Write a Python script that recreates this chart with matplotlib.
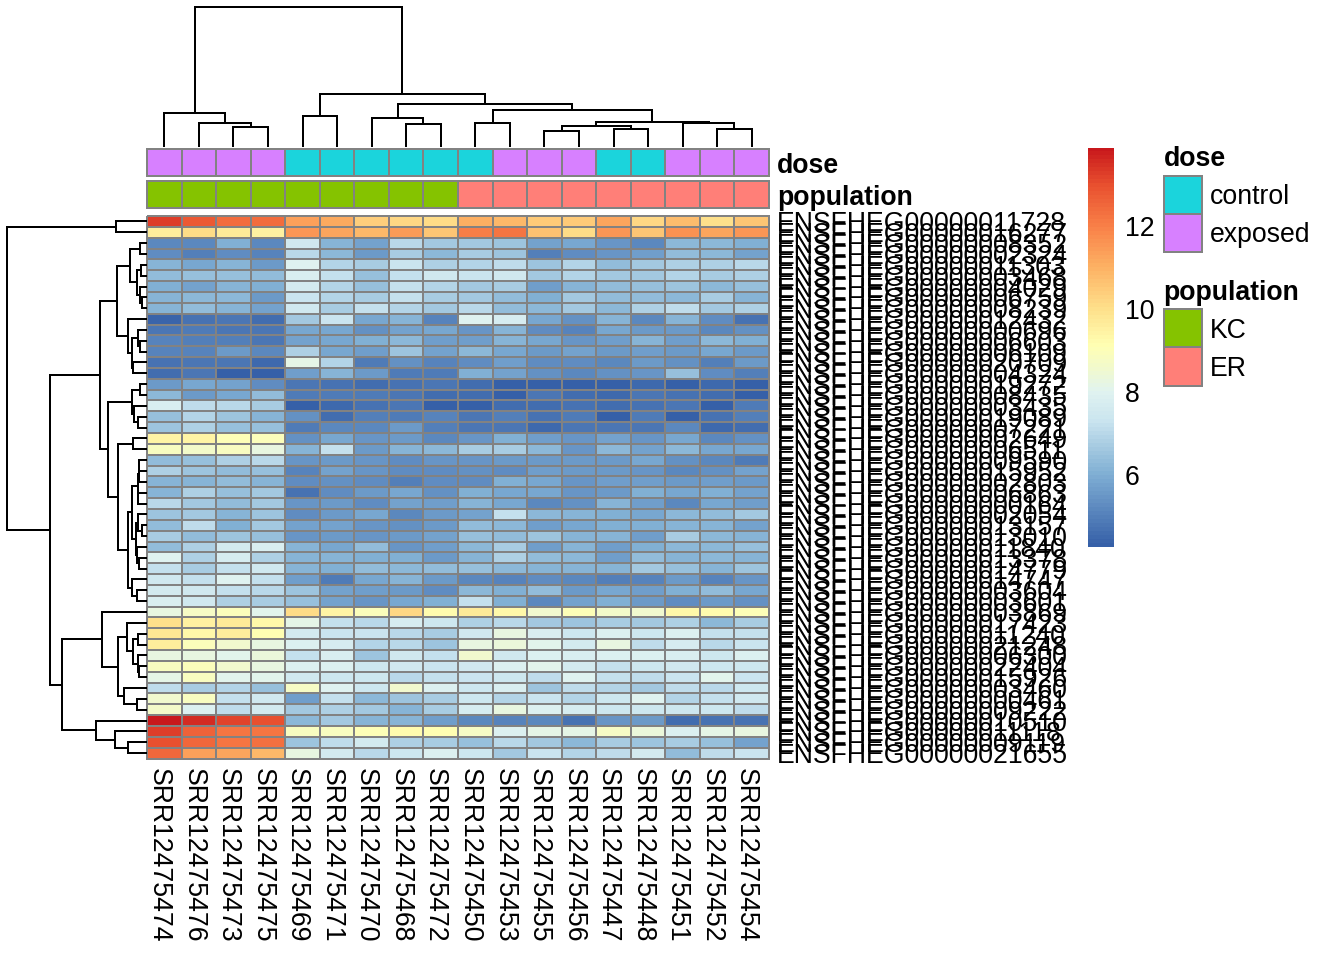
import numpy as np
import matplotlib
matplotlib.use('Agg')
import matplotlib.pyplot as plt
from matplotlib.colors import LinearSegmentedColormap, Normalize

plt.rcParams['font.family'] = ['Liberation Sans', 'DejaVu Sans']

# Columnas y filas del heatmap
muestras = ['SRR12475474', 'SRR12475476', 'SRR12475473', 'SRR12475475', 'SRR12475469', 'SRR12475471',
            'SRR12475470', 'SRR12475468', 'SRR12475472', 'SRR12475450', 'SRR12475453', 'SRR12475455',
            'SRR12475456', 'SRR12475447', 'SRR12475448', 'SRR12475451', 'SRR12475452', 'SRR12475454']
dose = ['exposed', 'exposed', 'exposed', 'exposed', 'control', 'control', 'control', 'control', 'control',
        'control', 'exposed', 'exposed', 'exposed', 'control', 'control', 'exposed', 'exposed', 'exposed']
population = ['KC'] * 9 + ['ER'] * 9
sufijos_genes = ['11728', '16277', '08352', '02324', '11303', '03468', '04029', '06759', '08239', '12432',
                 '00696', '06603', '06109', '20709', '04324', '19272', '08435', '03435', '19089', '07221',
                 '02649', '06511', '09590', '15952', '02803', '06863', '00164', '02054', '13157', '13010',
                 '11840', '13378', '14779', '14747', '03604', '03601', '03869', '17423', '11240', '21248',
                 '06300', '22404', '15926', '03460', '00461', '09222', '10510', '11118', '09119', '21655']
genes = ['ENSFHEG000000' + s for s in sufijos_genes]

valores = np.array([
    [13.3, 12.8, 12.4, 12.4, 11.3, 11.1, 10.4, 10.2, 10.1, 11.0, 10.9, 10.5, 10.5, 11.2, 10.2, 10.8, 10.0, 10.6],
    [9.6, 10.1, 9.7, 9.5, 11.5, 11.2, 10.9, 11.4, 10.6, 12.0, 12.2, 10.7, 10.1, 11.5, 10.6, 11.6, 11.2, 11.5],
    [5.2, 5.2, 6.0, 5.2, 7.5, 6.1, 5.8, 7.0, 6.6, 6.6, 6.5, 5.8, 5.9, 5.5, 5.2, 6.2, 6.2, 6.0],
    [5.3, 5.0, 5.3, 5.1, 7.0, 6.2, 5.6, 6.7, 6.2, 6.7, 6.5, 5.0, 5.3, 5.5, 5.7, 6.3, 6.2, 5.8],
    [6.1, 5.9, 6.1, 5.6, 8.0, 6.9, 6.7, 7.3, 6.8, 6.9, 7.1, 6.5, 6.9, 6.3, 6.6, 6.8, 6.8, 7.0],
    [6.3, 6.4, 6.4, 6.3, 7.8, 7.2, 6.4, 7.2, 7.5, 7.3, 7.5, 6.6, 6.9, 6.6, 6.6, 6.9, 6.7, 6.8],
    [6.0, 5.8, 6.1, 6.0, 7.6, 6.9, 6.4, 7.2, 6.9, 6.6, 6.7, 5.7, 6.1, 6.3, 6.4, 6.5, 6.2, 6.4],
    [6.1, 6.2, 6.2, 5.6, 7.3, 6.9, 6.7, 7.2, 6.7, 6.6, 6.3, 6.0, 6.6, 6.3, 6.3, 6.2, 6.7, 6.1],
    [6.1, 6.3, 6.1, 5.8, 7.5, 6.7, 7.2, 6.9, 6.6, 7.0, 6.3, 6.2, 6.6, 6.2, 6.8, 7.1, 6.6, 6.8],
    [4.4, 4.7, 4.8, 4.6, 6.6, 7.3, 5.9, 6.1, 5.1, 8.0, 7.7, 5.9, 5.4, 6.1, 5.2, 6.1, 5.3, 4.7],
    [4.8, 4.9, 4.8, 4.8, 5.9, 5.9, 5.4, 5.8, 5.9, 5.5, 6.1, 5.3, 5.1, 5.9, 5.6, 5.6, 5.2, 5.4],
    [5.1, 5.0, 5.0, 4.8, 5.8, 5.9, 6.0, 6.2, 5.7, 5.7, 6.1, 5.9, 5.5, 5.7, 6.1, 5.7, 6.2, 6.0],
    [5.1, 5.1, 5.6, 5.2, 6.8, 5.9, 5.7, 6.5, 5.8, 6.2, 5.9, 5.6, 5.8, 5.6, 5.7, 5.6, 5.9, 5.6],
    [4.7, 4.8, 4.8, 4.5, 8.2, 6.9, 4.9, 5.4, 5.1, 5.3, 5.7, 5.3, 5.3, 5.2, 5.6, 5.4, 5.0, 5.6],
    [4.6, 4.8, 4.3, 4.3, 5.7, 6.1, 5.6, 4.9, 4.9, 6.0, 5.8, 5.4, 5.2, 5.4, 5.5, 6.4, 5.3, 5.0],
    [5.6, 5.9, 5.8, 5.3, 4.8, 4.7, 4.6, 4.7, 4.8, 4.6, 4.3, 4.3, 4.3, 4.3, 4.5, 4.3, 4.5, 4.3],
    [6.2, 5.6, 5.9, 6.3, 4.9, 4.9, 4.9, 4.8, 4.6, 4.6, 4.3, 4.8, 4.6, 4.5, 4.8, 4.7, 4.6, 4.3],
    [7.8, 7.1, 7.0, 6.7, 4.3, 4.5, 4.7, 4.8, 4.3, 4.3, 4.6, 4.6, 4.7, 4.6, 4.7, 4.8, 4.3, 4.9],
    [6.4, 6.9, 6.5, 6.1, 5.4, 4.6, 5.0, 4.9, 5.1, 4.8, 5.0, 4.7, 4.9, 4.3, 4.9, 4.3, 4.7, 5.0],
    [6.5, 6.8, 6.4, 6.4, 4.9, 5.2, 5.2, 5.6, 5.0, 4.8, 4.8, 4.5, 4.8, 4.8, 4.8, 5.2, 4.5, 4.6],
    [9.4, 9.4, 9.0, 8.9, 5.4, 5.9, 5.5, 5.6, 5.2, 5.5, 6.0, 5.7, 5.5, 5.8, 5.5, 5.9, 5.2, 5.4],
    [8.8, 8.6, 8.8, 8.3, 6.1, 7.2, 5.6, 6.1, 6.2, 6.7, 6.7, 6.2, 5.5, 6.2, 5.8, 6.2, 5.9, 5.9],
    [6.3, 6.4, 6.8, 7.0, 5.5, 5.6, 5.5, 5.3, 5.5, 5.5, 5.6, 5.6, 5.6, 5.6, 5.9, 5.4, 5.2, 4.9],
    [6.8, 6.5, 6.3, 6.4, 5.1, 5.8, 5.5, 5.3, 5.3, 5.4, 5.3, 5.7, 5.6, 5.6, 5.5, 5.2, 5.4, 5.8],
    [6.1, 6.1, 6.3, 6.1, 5.3, 5.4, 5.3, 5.0, 5.3, 5.3, 6.0, 5.9, 5.5, 5.7, 5.7, 5.6, 5.7, 5.6],
    [6.1, 6.8, 6.4, 6.6, 4.7, 5.3, 5.6, 5.9, 5.4, 6.0, 5.9, 5.9, 5.5, 5.6, 6.0, 5.9, 6.0, 5.8],
    [7.0, 6.6, 6.3, 6.6, 5.5, 5.6, 5.3, 5.8, 5.7, 6.1, 5.9, 5.2, 5.4, 6.1, 5.7, 5.2, 5.9, 5.7],
    [6.5, 6.6, 6.1, 6.5, 5.3, 5.6, 5.9, 5.2, 5.6, 5.8, 7.2, 6.2, 6.1, 6.0, 5.9, 6.2, 6.3, 6.6],
    [6.3, 7.1, 6.0, 6.6, 5.8, 5.8, 5.5, 5.4, 5.6, 6.3, 6.2, 5.7, 5.9, 6.0, 6.0, 6.1, 6.1, 5.8],
    [6.7, 6.3, 6.5, 6.4, 5.5, 5.6, 5.5, 5.6, 5.8, 6.4, 6.3, 6.5, 6.1, 6.1, 5.7, 6.7, 6.2, 6.1],
    [6.3, 6.8, 7.6, 7.8, 6.1, 5.9, 6.3, 5.5, 5.7, 6.2, 6.7, 5.7, 6.1, 5.7, 6.0, 6.2, 6.2, 6.4],
    [8.0, 6.8, 7.7, 6.8, 6.1, 6.1, 6.0, 6.0, 5.6, 6.1, 6.8, 6.3, 6.2, 5.7, 6.3, 6.1, 6.2, 6.1],
    [7.2, 6.7, 7.2, 7.5, 6.1, 6.0, 6.3, 6.2, 6.3, 6.4, 6.2, 6.1, 6.1, 6.1, 6.6, 6.4, 6.1, 6.5],
    [7.5, 7.2, 8.0, 7.2, 5.7, 4.9, 5.9, 6.1, 5.6, 5.2, 5.1, 5.3, 5.2, 5.0, 5.1, 5.6, 5.1, 5.5],
    [7.6, 7.5, 7.2, 7.0, 6.5, 5.8, 5.7, 5.6, 5.3, 6.2, 6.0, 6.3, 5.6, 5.9, 5.7, 6.0, 6.3, 5.9],
    [7.8, 7.5, 6.8, 6.7, 6.4, 5.8, 5.5, 5.9, 6.0, 7.2, 6.0, 5.2, 5.8, 6.0, 5.6, 5.3, 5.6, 5.4],
    [8.3, 8.7, 8.9, 8.1, 10.1, 9.4, 8.9, 10.2, 9.2, 9.7, 9.3, 8.5, 9.0, 8.6, 8.5, 9.3, 9.2, 9.0],
    [10.0, 9.5, 9.7, 9.3, 8.2, 7.2, 7.0, 7.7, 7.4, 6.8, 7.0, 6.6, 6.5, 6.7, 6.6, 6.8, 6.2, 6.7],
    [9.8, 9.3, 9.6, 9.1, 7.6, 7.3, 7.3, 7.0, 6.7, 7.5, 8.3, 7.8, 7.4, 7.9, 7.4, 7.9, 7.2, 7.2],
    [9.6, 8.9, 8.5, 8.3, 7.9, 7.7, 6.9, 7.0, 6.5, 8.3, 8.4, 8.1, 7.6, 8.3, 7.1, 7.7, 7.0, 7.3],
    [8.3, 8.3, 8.1, 8.4, 7.2, 7.8, 6.5, 7.5, 7.2, 8.5, 7.5, 7.9, 7.8, 7.9, 7.9, 7.8, 7.4, 7.9],
    [8.8, 8.9, 8.5, 8.3, 7.9, 7.9, 7.4, 7.5, 7.3, 7.5, 7.9, 8.1, 7.6, 7.2, 7.4, 7.5, 7.4, 7.4],
    [8.2, 8.8, 8.1, 8.1, 7.5, 7.4, 7.4, 7.0, 7.2, 7.3, 7.4, 7.1, 8.0, 7.2, 7.1, 7.3, 8.1, 7.3],
    [7.1, 6.7, 6.9, 6.4, 8.7, 8.0, 7.4, 8.5, 7.9, 7.4, 7.8, 6.5, 7.1, 6.9, 6.6, 7.1, 7.0, 7.4],
    [8.5, 8.8, 7.2, 7.5, 5.7, 7.2, 6.2, 6.5, 6.7, 7.4, 6.9, 7.3, 6.9, 7.4, 8.0, 6.9, 7.2, 7.5],
    [8.6, 7.9, 7.1, 7.6, 6.6, 6.8, 6.6, 6.1, 6.7, 7.7, 8.3, 7.9, 7.7, 7.4, 7.4, 7.4, 7.4, 7.1],
    [13.85, 13.5, 13.2, 13.0, 6.2, 6.6, 6.1, 6.1, 5.7, 5.2, 5.1, 5.2, 4.7, 5.5, 5.6, 4.6, 4.7, 4.7],
    [13.3, 12.6, 12.2, 12.2, 8.8, 8.8, 9.0, 9.2, 9.1, 8.7, 7.9, 8.2, 8.2, 8.7, 8.4, 7.9, 8.2, 8.3],
    [13.0, 12.5, 12.2, 12.3, 6.5, 7.1, 7.6, 6.8, 6.7, 6.4, 7.0, 6.6, 6.2, 6.7, 6.5, 6.7, 6.4, 5.8],
    [12.5, 11.3, 11.2, 10.9, 8.3, 7.6, 7.0, 7.4, 7.9, 7.4, 6.6, 7.3, 6.9, 7.1, 7.6, 6.3, 7.1, 7.3],
])

# Arboles de los dendrogramas: (hijo, hijo, altura), las hojas son enteros
arbol_columnas = (
    (0, (1, (2, 3, 19), 23.3), 33),
    ((4, 5, 30),
     ((6, (7, 8, 22), 28),
      ((9, 10, 23.3),
       (((11, 12, 15.3), (13, 14, 17.3), 19.7), (15, (16, 17, 16.7), 23), 24.3),
       36),
      42),
     51.7),
    139.3)
arbol_filas = (
    (0, 1, 30.3),
    (((((2, 3, 6), ((4, 5, 5.3), (6, (7, 8, 4), 6), 9.3), 16),
       (9, ((10, (11, 12, 6), 8.3), (13, 14, 12.7), 14.3), 18.3), 29.3),
      (((15, 16, 6), (17, (18, 19, 8.3), 11.7), 14.3),
       ((20, 21, 12.7),
        ((((((22, 23, 6.7), 24, 7.5), (25, 26, 7.7), 8.3),
           ((27, (28, 29, 4.3), 7.7), (30, (31, 32, 6.7), 8.7), 10), 13.7),
          (33, (34, 35, 8.7), 14.3), 18.3)), 28),
       38.3), 46),
     ((36, ((37, ((38, 39, 7.7), (40, (41, 42, 6.7), 8.3), 13.3), 19.3),
            (43, (44, 45, 9.3), 22), 28), 44.3),
      (46, (47, (48, 49, 17.7), 30.7), 50), 84.3), 96),
    139.3)

colores_dose = {'control': '#1BD4DC', 'exposed': '#D780FF'}
colores_population = {'KC': '#85C300', 'ER': '#FF7F78'}
GRIS = '#828282'

# Escala de color del heatmap
vmin, vmax = 4.27, 13.88
puntos = [(4.27, '#3660A8'), (6.0, '#80AFD4'), (7.3, '#CBE5EF'), (8.0, '#E0F3F0'), (8.5, '#F0F9D0'), (9.1, '#FFFFB3'),
          (10.0, '#FEE08B'), (11.0, '#FDB264'), (12.0, '#F98048'), (13.0, '#E8502F'), (13.88, '#C8181C')]
cmap = LinearSegmentedColormap.from_list(
    'calor', [((v - vmin) / (vmax - vmin), c) for v, c in puntos], N=100)
norm = Normalize(vmin, vmax)

fig = plt.figure(figsize=(7, 5), dpi=192)
W, H = 1344, 960


def ejes_px(x0, y0, x1, y1):
    # Crea unos ejes a partir de pixeles medidos desde arriba a la izquierda
    ax = fig.add_axes([x0 / W, 1 - y1 / H, (x1 - x0) / W, (y1 - y0) / H])
    ax.axis('off')
    return ax


# Dibuja un arbol y devuelve (posicion, altura) del nodo
def dibujar_arbol(nodo, ax, vertical):
    if isinstance(nodo, int):
        return nodo + 0.5, 0
    p1, h1 = dibujar_arbol(nodo[0], ax, vertical)
    p2, h2 = dibujar_arbol(nodo[1], ax, vertical)
    h = nodo[2]
    pos = [p1, p1, p2, p2]
    alt = [h1, h, h, h2]
    if vertical:
        ax.plot(pos, alt, color='black', lw=0.75, solid_joinstyle='miter', clip_on=False)
    else:
        ax.plot(alt, pos, color='black', lw=0.75, solid_joinstyle='miter', clip_on=False)
    return (p1 + p2) / 2, h


X0, X1, Y0, Y1 = 147, 769, 216, 758.5
ncol, nfil = len(muestras), len(genes)

# Heatmap principal
ax = ejes_px(X0, Y0, X1, Y1)
ax.pcolormesh(np.arange(ncol + 1), np.arange(nfil + 1), valores, cmap=cmap, norm=norm,
              edgecolors=GRIS, linewidth=0.75, clip_on=False)
ax.set_xlim(0, ncol)
ax.set_ylim(nfil, 0)

# Anotaciones de las columnas
for categorias, colores, y0, y1 in [(dose, colores_dose, 149, 176), (population, colores_population, 181, 208)]:
    ax_a = ejes_px(X0, y0, X1, y1)
    ax_a.set_xlim(0, ncol)
    ax_a.set_ylim(1, 0)
    for i, c in enumerate(categorias):
        ax_a.bar(i + 0.5, 1, 1, 0, color=colores[c], edgecolor=GRIS, linewidth=0.75, clip_on=False)

# Dendrogramas
ax_top = ejes_px(X0, 6.7, X1, 146)
ax_top.set_xlim(0, ncol)
ax_top.set_ylim(0, 139.3)
dibujar_arbol(arbol_columnas, ax_top, True)

ax_izq = ejes_px(6.7, Y0, 146, Y1)
ax_izq.set_xlim(139.3, 0)
ax_izq.set_ylim(nfil, 0)
dibujar_arbol(arbol_filas, ax_izq, False)

# Barra de color
ax_cb = ejes_px(1088, 147.5, 1114, 547)
ax_cb.axis('on')
escala = np.linspace(vmin, vmax, 101)
ax_cb.pcolormesh([0, 1], escala, ((escala[:-1] + escala[1:]) / 2).reshape(-1, 1), cmap=cmap, norm=norm)
ax_cb.set_xticks([])
ax_cb.yaxis.tick_right()
ax_cb.set_yticks([6, 8, 10, 12])
ax_cb.tick_params(axis='y', length=0, pad=4, labelsize=10)
for lado in ax_cb.spines.values():
    lado.set_visible(False)

# Capa de textos y leyendas en pixeles
capa = ejes_px(0, 0, W, H)
capa.set_xlim(0, W)
capa.set_ylim(H, 0)
capa.patch.set_alpha(0)

for i, m in enumerate(muestras):
    capa.text(X0 + (i + 0.5) * (X1 - X0) / ncol - 5.5, 768, m, rotation=270, ha='center', va='top', fontsize=10)
for i, g in enumerate(genes):
    capa.text(777, Y0 + (i + 0.5) * (Y1 - Y0) / nfil + 3, g, ha='left', va='center', fontsize=10)
capa.text(777, 166, 'dose', ha='left', va='center', fontsize=10, fontweight='bold')
capa.text(777, 198, 'population', ha='left', va='center', fontsize=10, fontweight='bold')


def leyenda(titulo, colores, y_titulo, y_caja):
    capa.text(1163.5, y_titulo, titulo, ha='left', va='center', fontsize=10, fontweight='bold')
    for j, (nombre, color) in enumerate(colores.items()):
        y = y_caja + j * 38.4
        capa.add_patch(plt.Rectangle((1164, y), 38.4, 38.4, facecolor=color, edgecolor=GRIS, linewidth=0.75))
        capa.text(1210, y + 21.5, nombre, ha='left', va='center', fontsize=10)


leyenda('dose', colores_dose, 159.5, 175.5)
leyenda('population', colores_population, 293.5, 309)

plt.savefig('out.png', dpi=192)
